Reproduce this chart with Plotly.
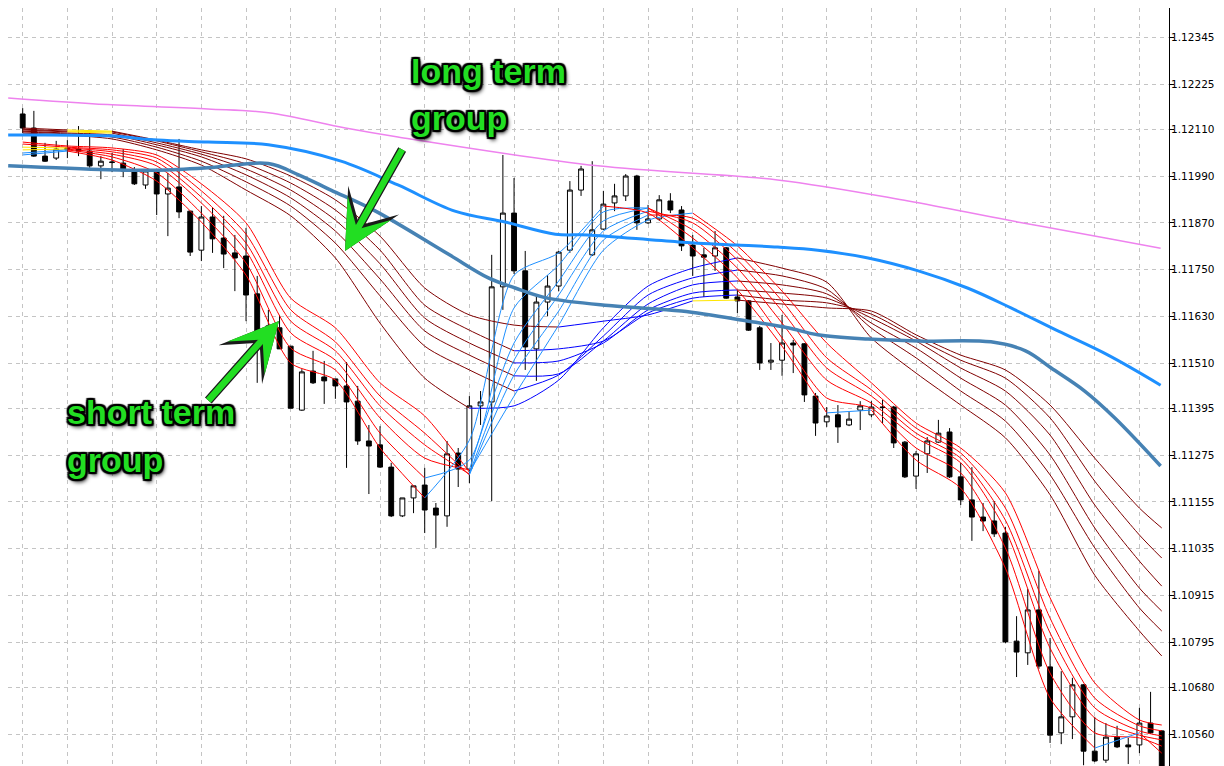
import plotly.graph_objects as go

# ---------------- candle data ----------------
bar_open = [1.12149, 1.12113, 1.12041, 1.12036, 1.12062, 1.12059, 1.12054, 1.12016, 1.12026, 1.12023,
            1.12005, 1.11967, 1.12003, 1.11944, 1.11962, 1.11900, 1.11800, 1.11885, 1.11831, 1.11793,
            1.11785, 1.11688, 1.11593, 1.11601, 1.11554, 1.11390, 1.11490, 1.11475, 1.11470, 1.11452,
            1.11413, 1.11311, 1.11301, 1.11244, 1.11119, 1.11165, 1.11198, 1.11139, 1.11119, 1.11280,
            1.11239, 1.11401, 1.11411, 1.11706, 1.11895, 1.11747, 1.11547, 1.11667, 1.11708, 1.11800,
            1.11954, 1.11788, 1.11854, 1.11921, 1.11939, 1.11990, 1.11870, 1.11880, 1.11926, 1.11903,
            1.11813, 1.11788, 1.11785, 1.11806, 1.11680, 1.11670, 1.11601, 1.11513, 1.11518, 1.11562,
            1.11560, 1.11426, 1.11360, 1.11378, 1.11352, 1.11390, 1.11378, 1.11398, 1.11398, 1.11308,
            1.11221, 1.11278, 1.11308, 1.11334, 1.11219, 1.11160, 1.11116, 1.11106, 1.11075, 1.10798,
            1.10768, 1.10878, 1.10732, 1.10563, 1.10604, 1.10686, 1.10516, 1.10493, 1.10552, 1.10532,
            1.10532, 1.10588, 1.10568]
bar_high = [1.12164, 1.12157, 1.12075, 1.12080, 1.12082, 1.12118, 1.12100, 1.12041, 1.12049, 1.12059,
            1.12013, 1.12003, 1.12003, 1.11998, 1.12085, 1.11900, 1.11913, 1.11908, 1.11888, 1.11839,
            1.11857, 1.11734, 1.11647, 1.11634, 1.11554, 1.11495, 1.11542, 1.11516, 1.11470, 1.11513,
            1.11452, 1.11352, 1.11349, 1.11255, 1.11165, 1.11196, 1.11242, 1.11152, 1.11311, 1.11293,
            1.11426, 1.11439, 1.11788, 1.12044, 1.11985, 1.11798, 1.11685, 1.11736, 1.11798, 1.11977,
            1.12016, 1.12028, 1.11952, 1.11970, 1.11995, 1.11993, 1.11916, 1.11941, 1.11946, 1.11913,
            1.11839, 1.11806, 1.11849, 1.11808, 1.11698, 1.11672, 1.11606, 1.11562, 1.11634, 1.11570,
            1.11562, 1.11434, 1.11398, 1.11403, 1.11385, 1.11413, 1.11413, 1.11416, 1.11401, 1.11311,
            1.11285, 1.11321, 1.11365, 1.11344, 1.11255, 1.11244, 1.11152, 1.11157, 1.11091, 1.10862,
            1.10932, 1.10978, 1.10806, 1.10721, 1.10704, 1.10688, 1.10604, 1.10588, 1.10581, 1.10550,
            1.10627, 1.10668, 1.10570]
bar_low = [1.12100, 1.12039, 1.12026, 1.12031, 1.12036, 1.12041, 1.12011, 1.11982, 1.12000, 1.11987,
           1.11967, 1.11957, 1.11890, 1.11836, 1.11882, 1.11785, 1.11772, 1.11793, 1.11754, 1.11695,
           1.11618, 1.11460, 1.11524, 1.11547, 1.11395, 1.11388, 1.11457, 1.11406, 1.11419, 1.11242,
           1.11301, 1.11175, 1.11242, 1.11116, 1.11116, 1.11126, 1.11075, 1.11037, 1.11091, 1.11193,
           1.11203, 1.11352, 1.11157, 1.11647, 1.11739, 1.11493, 1.11465, 1.11631, 1.11695, 1.11793,
           1.11939, 1.11785, 1.11852, 1.11900, 1.11926, 1.11852, 1.11867, 1.11875, 1.11895, 1.11798,
           1.11734, 1.11680, 1.11747, 1.11675, 1.11639, 1.11593, 1.11493, 1.11493, 1.11478, 1.11485,
           1.11411, 1.11324, 1.11347, 1.11306, 1.11349, 1.11339, 1.11372, 1.11357, 1.11293, 1.11216,
           1.11188, 1.11229, 1.11306, 1.11216, 1.11147, 1.11055, 1.11080, 1.11065, 1.10793, 1.10706,
           1.10737, 1.10727, 1.10537, 1.10534, 1.10547, 1.10480, 1.10488, 1.10486, 1.10524, 1.10483,
           1.10511, 1.10560, 1.10396]
bar_close = [1.12113, 1.12041, 1.12028, 1.12059, 1.12057, 1.12054, 1.12016, 1.12028, 1.12025, 1.12003,
             1.11970, 1.12003, 1.11944, 1.11959, 1.11898, 1.11795, 1.11885, 1.11829, 1.11790, 1.11780,
             1.11685, 1.11588, 1.11606, 1.11547, 1.11395, 1.11488, 1.11460, 1.11465, 1.11452, 1.11411,
             1.11311, 1.11298, 1.11244, 1.11119, 1.11165, 1.11196, 1.11134, 1.11121, 1.11278, 1.11239,
             1.11401, 1.11411, 1.11706, 1.11895, 1.11747, 1.11552, 1.11667, 1.11708, 1.11795, 1.11954,
             1.12008, 1.11852, 1.11918, 1.11939, 1.11990, 1.11870, 1.11880, 1.11929, 1.11903, 1.11811,
             1.11785, 1.11782, 1.11806, 1.11677, 1.11670, 1.11595, 1.11511, 1.11518, 1.11562, 1.11557,
             1.11429, 1.11357, 1.11375, 1.11347, 1.11367, 1.11401, 1.11398, 1.11397, 1.11306, 1.11219,
             1.11278, 1.11311, 1.11331, 1.11219, 1.11160, 1.11116, 1.11106, 1.11073, 1.10796, 1.10770,
             1.10878, 1.10734, 1.10557, 1.10604, 1.10686, 1.10516, 1.10491, 1.10552, 1.10527, 1.10527,
             1.10588, 1.10563, 1.10422]

ma_bars = [0, 4, 8, 12, 16, 20, 24, 28, 32, 36, 40, 44, 48, 52, 56, 60, 64, 68, 72, 76, 80, 84, 88, 92, 96, 100, 102]

short_1 = [1.12044, 1.12054, 1.12031, 1.11977, 1.11872, 1.11736, 1.11511, 1.11467, 1.11293, 1.11165, 1.11313, 1.11736, 1.11793, 1.11913,
           1.11895, 1.11806, 1.11698, 1.11554, 1.11383, 1.11390, 1.11262, 1.11190, 1.10985, 1.10652, 1.10524, 1.10563, 1.10511]
short_2 = [1.12049, 1.12057, 1.12039, 1.11998, 1.11895, 1.11767, 1.11549, 1.11493, 1.11331, 1.11216, 1.11262, 1.11652, 1.11762, 1.11898,
           1.11908, 1.11831, 1.11729, 1.11575, 1.11421, 1.11395, 1.11293, 1.11229, 1.11037, 1.10716, 1.10563, 1.10550, 1.10529]
short_3 = [1.12057, 1.12059, 1.12046, 1.12016, 1.11921, 1.11798, 1.11588, 1.11518, 1.11370, 1.11267, 1.11237, 1.11562, 1.11721, 1.11875,
           1.11908, 1.11852, 1.11754, 1.11613, 1.11467, 1.11408, 1.11319, 1.11255, 1.11083, 1.10780, 1.10601, 1.10557, 1.10545]
short_4 = [1.12064, 1.12062, 1.12052, 1.12026, 1.11936, 1.11818, 1.11618, 1.11542, 1.11401, 1.11301, 1.11226, 1.11518, 1.11685, 1.11849,
           1.11900, 1.11870, 1.11775, 1.11644, 1.11498, 1.11426, 1.11331, 1.11267, 1.11108, 1.10819, 1.10627, 1.10568, 1.10555]
short_5 = [1.12072, 1.12064, 1.12057, 1.12036, 1.11952, 1.11841, 1.11647, 1.11565, 1.11426, 1.11331, 1.11224, 1.11480, 1.11644, 1.11826,
           1.11890, 1.11882, 1.11793, 1.11670, 1.11524, 1.11442, 1.11344, 1.11280, 1.11139, 1.10857, 1.10652, 1.10581, 1.10568]
short_6 = [1.12077, 1.12067, 1.12062, 1.12044, 1.11970, 1.11870, 1.11677, 1.11601, 1.11460, 1.11375, 1.11231, 1.11426, 1.11608, 1.11800,
           1.11877, 1.11895, 1.11811, 1.11695, 1.11562, 1.11460, 1.11357, 1.11293, 1.11178, 1.10909, 1.10691, 1.10596, 1.10583]

long_1 = [1.12100, 1.12095, 1.12085, 1.12057, 1.12018, 1.11954, 1.11888, 1.11780, 1.11613, 1.11472, 1.11395, 1.11401, 1.11467, 1.11601,
          1.11708, 1.11754, 1.11780, 1.11754, 1.11718, 1.11575, 1.11485, 1.11403, 1.11319, 1.11173, 1.10967, 1.10824, 1.10760]
long_2 = [1.12103, 1.12098, 1.12090, 1.12064, 1.12028, 1.11975, 1.11913, 1.11818, 1.11683, 1.11554, 1.11493, 1.11439, 1.11480, 1.11580,
          1.11685, 1.11729, 1.11749, 1.11734, 1.11700, 1.11600, 1.11524, 1.11439, 1.11362, 1.11224, 1.11037, 1.10883, 1.10824]
long_3 = [1.12105, 1.12100, 1.12095, 1.12070, 1.12039, 1.11993, 1.11934, 1.11849, 1.11726, 1.11593, 1.11531, 1.11478, 1.11483, 1.11567,
          1.11662, 1.11711, 1.11721, 1.11711, 1.11688, 1.11613, 1.11549, 1.11472, 1.11403, 1.11275, 1.11088, 1.10934, 1.10875]
long_4 = [1.12108, 1.12103, 1.12100, 1.12075, 1.12046, 1.12008, 1.11954, 1.11877, 1.11765, 1.11626, 1.11562, 1.11511, 1.11516, 1.11562,
          1.11647, 1.11690, 1.11698, 1.11690, 1.11677, 1.11626, 1.11567, 1.11498, 1.11439, 1.11326, 1.11147, 1.11003, 1.10939]
long_5 = [1.12110, 1.12105, 1.12103, 1.12080, 1.12052, 1.12021, 1.11972, 1.11903, 1.11800, 1.11659, 1.11595, 1.11542, 1.11547, 1.11567,
          1.11639, 1.11677, 1.11685, 1.11672, 1.11665, 1.11636, 1.11575, 1.11518, 1.11472, 1.11370, 1.11208, 1.11070, 1.11011]
long_6 = [1.12113, 1.12108, 1.12105, 1.12082, 1.12057, 1.12034, 1.11990, 1.11929, 1.11836, 1.11703, 1.11634, 1.11608, 1.11603, 1.11618,
          1.11634, 1.11670, 1.11672, 1.11662, 1.11652, 1.11644, 1.11583, 1.11531, 1.11493, 1.11403, 1.11267, 1.11139, 1.11088]

# ---------------- slower averages ----------------
fast_ma_bars = [-1.3, 7.6, 12.1, 16.6, 22.0, 28.5, 33.6, 38.7, 43.2, 47.7, 50.6, 58.7, 64.0, 67.6, 71.2, 75.7, 80.2, 84.6,
                88.5, 92.7, 97.2, 101.9]
fast_ma = [1.12095, 1.12093, 1.12082, 1.12077, 1.12070, 1.12028, 1.11967, 1.11900, 1.11872, 1.11841, 1.11839, 1.11821,
           1.11813, 1.11808, 1.11800, 1.11780, 1.11747, 1.11703, 1.11652, 1.11593, 1.11531, 1.11454]
mid_ma_bars = [-1.3, 7.6, 12.1, 16.6, 22.0, 24.7, 27.6, 31.6, 38.1, 41.7, 44.1, 47.0, 53.0, 59.0, 65.0, 68.5, 71.2, 75.7,
               80.2, 86.7, 89.8, 92.1, 95.1, 97.8, 101.9]
mid_ma = [1.12016, 1.12006, 1.12005, 1.12011, 1.12022, 1.11993, 1.11954, 1.11900, 1.11790, 1.11729, 1.11703, 1.11677,
          1.11657, 1.11644, 1.11618, 1.11601, 1.11583, 1.11572, 1.11567, 1.11565, 1.11542, 1.11498, 1.11439, 1.11370, 1.11247]
slow_ma_bars = [-1.3, 7.6, 16.6, 22.0, 28.9, 33.6, 51.5, 67.6, 79.3, 88.2, 97.2, 101.9]
slow_ma = [1.12190, 1.12173, 1.12162, 1.12152, 1.12113, 1.12090, 1.12016, 1.11980, 1.11926, 1.11877, 1.11830, 1.11805]

price_ticks = [1.12345, 1.12225, 1.12110, 1.11990, 1.11870, 1.11750, 1.11630, 1.11510,
               1.11395, 1.11275, 1.11155, 1.11035, 1.10915, 1.10795, 1.10680, 1.10560]
tick_labels = ["%.5f" % v for v in price_ticks]

# ---------------- styles ----------------
SHORT_DOWN, SHORT_UP = "#FF0000", "#1E90FF"
LONG_DOWN, LONG_UP = "#800000", "#0000FF"
FLAT = "#FFE600"
GRID = "#C4C4C4"
GREEN = "#22DE22"

fig = go.Figure()

fig.add_trace(go.Candlestick(
    x=list(range(len(bar_close))), open=bar_open, high=bar_high, low=bar_low, close=bar_close,
    increasing=dict(line=dict(color="black", width=1), fillcolor="white"),
    decreasing=dict(line=dict(color="black", width=1), fillcolor="black"),
    whiskerwidth=0, showlegend=False, hoverinfo="skip"))


def add_colored_line(xs, ys, up_col, down_col, width=1):
    cols = []
    for j in range(len(xs) - 1):
        slope = (ys[j + 1] - ys[j]) / (xs[j + 1] - xs[j])
        if abs(slope) < 0.000012:
            cols.append(FLAT)
        elif slope > 0:
            cols.append(up_col)
        else:
            cols.append(down_col)
    start = 0
    for j in range(1, len(cols) + 1):
        if j == len(cols) or cols[j] != cols[start]:
            fig.add_trace(go.Scatter(
                x=xs[start:j + 1], y=ys[start:j + 1], mode="lines",
                line=dict(color=cols[start], width=width, shape="spline", smoothing=0.7),
                showlegend=False, hoverinfo="skip"))
            start = j


for s in [long_6, long_5, long_4, long_3, long_2, long_1]:
    add_colored_line(ma_bars, s, LONG_UP, LONG_DOWN)
for s in [short_6, short_5, short_4, short_3, short_2, short_1]:
    add_colored_line(ma_bars, s, SHORT_UP, SHORT_DOWN)

fig.add_trace(go.Scatter(x=slow_ma_bars, y=slow_ma, mode="lines",
                         line=dict(color="#EE82EE", width=1.5, shape="spline"), showlegend=False, hoverinfo="skip"))
fig.add_trace(go.Scatter(x=mid_ma_bars, y=mid_ma, mode="lines",
                         line=dict(color="#4682B4", width=3.5, shape="spline"), showlegend=False, hoverinfo="skip"))
fig.add_trace(go.Scatter(x=fast_ma_bars, y=fast_ma, mode="lines",
                         line=dict(color="#1E90FF", width=3, shape="spline"), showlegend=False, hoverinfo="skip"))

# ---------------- annotations ----------------
PLOT_W, PLOT_H = 1161.0, 766.0
shadow = ("-2px -2px 1px #000, 2px -2px 1px #000, -2px 2px 1px #000, 2px 2px 1px #000, "
          "0px 2px 1px #000, 0px -2px 1px #000, 2px 0px 1px #000, -2px 0px 1px #000, 2px 3px 4px #000")
label_font = dict(family="Liberation Sans, Arial, sans-serif", size=34, color=GREEN, weight="bold", shadow=shadow)


def px_text(text, x, y):
    fig.add_annotation(text=text, xref="paper", yref="paper", x=x / PLOT_W, y=1 - y / PLOT_H,
                       xanchor="left", yanchor="middle", showarrow=False, font=label_font)


px_text("long term", 401, 63)
px_text("group", 401, 110)
px_text("short term", 57, 404)
px_text("group", 57, 452)


def px_arrow(hx, hy, tx, ty):
    for col, w, sz in [("#1A1A1A", 9, 1.08), (GREEN, 6.5, 1.27)]:
        fig.add_annotation(text="", xref="paper", yref="paper", x=hx / PLOT_W, y=1 - hy / PLOT_H,
                           ax=tx - hx, ay=ty - hy, showarrow=True, arrowhead=3, arrowsize=sz,
                           arrowwidth=w, arrowcolor=col, standoff=0)


px_arrow(337, 243, 395, 140)
px_arrow(271, 313, 199, 394)

fig.update_layout(
    width=1224, height=766, margin=dict(l=0, r=63, t=0, b=0),
    paper_bgcolor="white", plot_bgcolor="white", showlegend=False, boxgap=0.38,
    xaxis=dict(range=[-1.316, 102.65], tick0=0, dtick=4, showticklabels=False, ticks="",
               showgrid=True, gridcolor=GRID, griddash="4px,4px", gridwidth=1, zeroline=False,
               showline=False, rangeslider=dict(visible=False), fixedrange=True),
    yaxis=dict(side="right", range=[1.104575, 1.124206], tickvals=price_ticks, ticktext=tick_labels,
               showgrid=True, gridcolor=GRID, griddash="4px,4px", gridwidth=1, zeroline=False,
               ticks="outside", ticklen=4, tickcolor="black", showline=True, linecolor="black", linewidth=1,
               ticklabelstandoff=-5,
               tickfont=dict(family="DejaVu Sans", size=10.5, color="black"), fixedrange=True),
)

fig.write_html("out.html")
